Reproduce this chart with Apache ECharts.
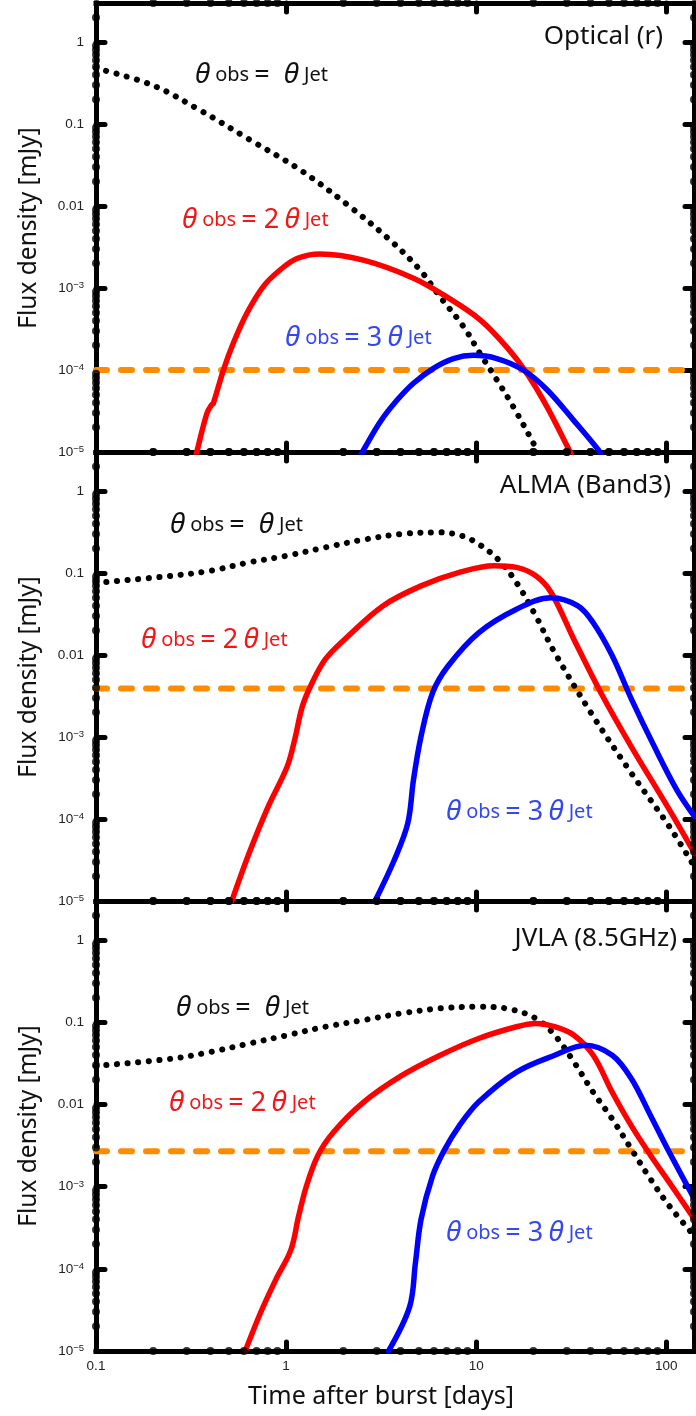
<!DOCTYPE html>
<html><head><meta charset="utf-8">
<script src="https://cdn.jsdelivr.net/npm/echarts@6/dist/echarts.min.js"></script>
<style>html,body{margin:0;padding:0;background:#fff}#c{width:696px;height:1416px}</style>
</head><body><div id="c"></div>
<script>
// ---- axis ranges & ticks ----
const X_MIN = 0.1, X_MAX = 140, Y_MIN = 1e-5, Y_MAX = 3;
const xTickLabels = ['0.1', '1', '10', '100'];
const yTickLabels = ['{b|10}{s|−5}', '{b|10}{s|−4}', '{b|10}{s|−3}', '0.01', '0.1', '1'];
const xMinorTicks = [0.2,0.3,0.4,0.5,0.6,0.7,0.8,0.9, 2,3,4,5,6,7,8,9, 20,30,40,50,60,70,80,90];
const yMinorTicks = [2e-5,3e-5,4e-5,5e-5,6e-5,7e-5,8e-5,9e-5, 2e-4,3e-4,4e-4,5e-4,6e-4,7e-4,8e-4,9e-4,
  0.002,0.003,0.004,0.005,0.006,0.007,0.008,0.009, 0.02,0.03,0.04,0.05,0.06,0.07,0.08,0.09,
  0.2,0.3,0.4,0.5,0.6,0.7,0.8,0.9, 2];

// ---- panel names & sensitivity limits ----
const panelNames = ['Optical (r)', 'ALMA (Band3)', 'JVLA (8.5GHz)'];
const limits = [1e-4, 0.0039, 0.0027];

// ---- Optical (r) ----
const optJet = [[0.1,0.48],[0.197,0.30],[0.352,0.148],[0.647,0.064],[1.19,0.0275],[2.17,0.0098],[3.52,0.00385],
  [5.07,0.00166],[6.46,0.00078],[8.57,0.00034],[10.5,0.000158],[12.85,7.6e-5],[15.7,3.55e-5],[20.5,1.15e-5],[21.4,0.9e-5]];
const optTwo = [[0.335,0.9e-5],[0.339,1.0e-5],[0.383,2.95e-5],[0.407,3.8e-5],[0.414,3.9e-5],[0.468,1.0e-4],[0.528,2.14e-4],
  [0.621,4.9e-4],[0.76,1.05e-3],[0.929,1.66e-3],[1.14,2.29e-3],[1.51,2.6e-3],[2.55,2.19e-3],[4.68,1.32e-3],
  [7.0,7.8e-4],[10.5,4.1e-4],[14.5,1.9e-4],[18.5,9.1e-5],[23.6,3.55e-5],[30.6,1.1e-5],[31.6,0.95e-5]];
const optThree = [[2.45,0.89e-5],[2.55,1.05e-5],[3.13,2.34e-5],[3.83,4.27e-5],[4.68,6.9e-5],[5.96,1.05e-4],[7.6,1.38e-4],
  [9.68,1.51e-4],[12.85,1.38e-4],[17.7,1.0e-4],[23.6,5.75e-5],[32.5,2.45e-5],[44.1,1.05e-5],[45.7,0.89e-5]];

// ---- ALMA (Band3) ----
const almaJet = [[0.1,0.076],[0.252,0.0927],[0.402,0.107],[0.638,0.135],[1.01,0.163],[1.61,0.206],[2.56,0.256],
  [4.07,0.30],[6.47,0.314],[8.6,0.28],[10.3,0.226],[13.0,0.148],[16.3,0.0767],[20.6,0.030],[25.9,0.0107],
  [41.3,0.00179],[65.6,3.62e-4],[104,8.05e-5],[141,2.6e-5]];
const almaTwo = [[0.518,1e-5],[0.638,3.8e-5],[0.804,1.41e-4],[1.014,4.37e-4],[1.11,9.3e-4],[1.22,2.4e-3],[1.37,4.57e-3],
  [1.61,8.9e-3],[2.03,0.0155],[3.23,0.0398],[5.13,0.0698],[8.15,0.102],[12.4,0.123],[16.3,0.1175],[20.6,0.0927],
  [24.8,0.058],[32.7,0.0155],[45.3,3.47e-3],[65.6,7.6e-4],[104,1.29e-4],[141,3.8e-5]];
const almaThree = [[2.94,1e-5],[3.71,3.16e-5],[4.37,8.9e-5],[4.68,3.0e-4],[5.13,1.02e-3],[5.9,3.47e-3],[7.1,7.3e-3],
  [10.3,0.0187],[16.3,0.0363],[24.8,0.050],[34.3,0.0398],[41.3,0.0248],[52,9.8e-3],[65.6,2.9e-3],[86.7,7.6e-4],
  [114,2.24e-4],[141,1.07e-4]];

// ---- JVLA (8.5GHz) ----
const jvlaJet = [[0.1,0.0295],[0.252,0.0362],[0.402,0.0437],[0.638,0.0552],[1.014,0.0698],[1.61,0.0885],[2.56,0.1067],
  [4.07,0.129],[6.47,0.148],[10.3,0.155],[14.9,0.1455],[20.6,0.1117],[25.9,0.0698],[32.7,0.033],[41.3,0.0141],
  [52,6.67e-3],[65.6,2.86e-3],[82.8,1.23e-3],[104,5.8e-4],[141,2.5e-4]];
const jvlaTwo = [[0.61,1e-5],[0.733,2.9e-5],[0.883,7.4e-5],[1.06,1.7e-4],[1.164,4.37e-4],[1.28,1.02e-3],[1.47,2.4e-3],
  [1.77,4.57e-3],[2.56,0.0107],[4.07,0.0226],[6.47,0.0398],[10.3,0.0637],[16.3,0.0885],[20.6,0.097],[25.9,0.0885],
  [32.7,0.0698],[41.3,0.0398],[52,0.0141],[65.6,5.5e-3],[82.8,2.4e-3],[104,1.12e-3],[141,4.0e-4]];
const jvlaThree = [[3.46,1e-5],[4.47,3.47e-5],[4.79,1.17e-4],[5.13,4.0e-4],[5.9,1.35e-3],[6.78,2.75e-3],[8.15,5.5e-3],
  [10.3,0.0107],[16.3,0.0248],[25.9,0.0398],[37.6,0.0527],[52,0.0398],[65.6,0.0206],[82.8,7.3e-3],[104,2.6e-3],[141,7.0e-4]];

const jetSets = [optJet, almaJet, jvlaJet];
const twoSets = [optTwo, almaTwo, jvlaTwo];
const threeSets = [optThree, almaThree, jvlaThree];

// ---- layout ----
const gridTops = [3, 452, 901];
const gridHeights = [449, 449, 450];
const FONT = '"Noto Sans", "Open Sans", sans-serif';

const chart = echarts.init(document.getElementById('c'), null, {renderer: 'canvas'});

function decadeIndex(v, offset, n) {
  const l = Math.log10(v);
  const e = Math.round(l);
  if (Math.abs(l - e) > 1e-6) return -1;
  const k = e + offset;
  return (k >= 0 && k < n) ? k : -1;
}

const grids = [], xAxes = [], yAxes = [], series = [];
const axisLine = {show: true, lineStyle: {color: '#000', width: 5, cap: 'square'}};
const axisTick = {show: true, inside: true, length: 9, lineStyle: {color: '#000', width: 5, cap: 'round'}};

for (let i = 0; i < 3; i++) {
  grids.push({left: 96, right: 2, top: gridTops[i], height: gridHeights[i], containLabel: false});
  const showX = (i === 2);
  xAxes.push({type: 'log', logBase: 10, gridIndex: i, position: 'bottom', min: X_MIN, max: X_MAX,
    axisLine, axisTick, splitLine: {show: false},
    axisLabel: {show: showX, margin: 8, fontSize: 13.5, fontFamily: 'Liberation Sans', color: '#222',
      showMaxLabel: false, showMinLabel: true,
      formatter: v => { const k = decadeIndex(v, 1, xTickLabels.length); return k < 0 ? '' : xTickLabels[k]; }}});
  xAxes.push({type: 'log', logBase: 10, gridIndex: i, position: 'top', min: X_MIN, max: X_MAX,
    axisLine, axisTick, splitLine: {show: false}, axisLabel: {show: false}});
  yAxes.push({type: 'log', logBase: 10, gridIndex: i, position: 'left', min: Y_MIN, max: Y_MAX,
    axisLine, axisTick, splitLine: {show: false},
    axisLabel: {show: true, margin: 12, fontSize: 13.5, fontFamily: 'Liberation Sans', color: '#222',
      showMaxLabel: false,
      formatter: v => { const k = decadeIndex(v, 5, yTickLabels.length); return k < 0 ? '' : yTickLabels[k]; },
      rich: {
        b: {fontSize: 13.5, fontFamily: 'Liberation Sans', color: '#222', lineHeight: 15},
        s: {fontSize: 9.5, fontFamily: 'Liberation Sans', color: '#222', verticalAlign: 'top', lineHeight: 9}
      }}});
  yAxes.push({type: 'log', logBase: 10, gridIndex: i, position: 'right', min: Y_MIN, max: Y_MAX,
    axisLine, axisTick, splitLine: {show: false}, axisLabel: {show: false}});

  const xi = 2 * i, yi = 2 * i;
  const common = {type: 'line', xAxisIndex: xi, yAxisIndex: yi, showSymbol: false, symbol: 'none',
    smooth: 0.35, emphasis: {disabled: true}, silent: true, animation: false};
  series.push(Object.assign({}, common, {name: 'limit' + i, smooth: false,
    data: [[X_MIN, limits[i]], [X_MAX, limits[i]]], z: 2,
    lineStyle: {color: '#ff8c00', width: 6, type: [11, 14], cap: 'round'}}));
  series.push(Object.assign({}, common, {name: 'jet' + i, data: jetSets[i], z: 3,
    lineStyle: {color: '#000', width: 6, type: [0.1, 10.5], cap: 'round'}}));
  series.push(Object.assign({}, common, {name: 'two' + i, data: twoSets[i], z: 4,
    lineStyle: {color: '#ff0000', width: 5.5, cap: 'round', join: 'round'}}));
  series.push(Object.assign({}, common, {name: 'three' + i, data: threeSets[i], z: 4,
    lineStyle: {color: '#0000ff', width: 5.5, cap: 'round', join: 'round'}}));
  // minor tick dots on all four sides
  const tickData = [];
  xMinorTicks.forEach(v => { tickData.push([v, Y_MIN]); tickData.push([v, Y_MAX]); });
  yMinorTicks.forEach(v => { tickData.push([X_MIN, v]); tickData.push([X_MAX, v]); });
  series.push({type: 'scatter', xAxisIndex: xi, yAxisIndex: yi, data: tickData, symbol: 'circle', symbolSize: 8,
    itemStyle: {color: '#000'}, clip: false, silent: true, z: 10, emphasis: {disabled: true}, animation: false});
}

// ---- text labels ----
const richTheta = (color) => ({
  t: {fontSize: 28, fontStyle: 'italic', fontFamily: FONT, fill: color},
  s: {fontSize: 20, fontFamily: FONT, fill: color},
  e: {fontSize: 27, fontFamily: FONT, fill: color}
});
const lblJet = '{t|θ}{s| obs }{e|=  }{t|θ}{s| Jet}';
const lblTwo = '{t|θ}{s| obs }{e|= 2}{s| }{t|θ}{s| Jet}';
const lblThree = '{t|θ}{s| obs }{e|= 3}{s| }{t|θ}{s| Jet}';

const labelPos = [
  {name: [663, 37], jet: [195, 75], two: [182, 220], three: [285, 338]},
  {name: [671, 486], jet: [170, 525], two: [141, 640], three: [446, 812]},
  {name: [677, 939], jet: [176, 1008], two: [169, 1103], three: [446, 1233]}
];
const yTitleCenters = [228, 677, 1126];

const graphics = [];
for (let i = 0; i < 3; i++) {
  const p = labelPos[i];
  graphics.push({type: 'text', x: p.name[0], y: p.name[1], silent: true, z: 20,
    style: {text: panelNames[i], fontSize: 26, fontFamily: FONT, fill: '#111', align: 'right', verticalAlign: 'middle'}});
  graphics.push({type: 'text', x: p.jet[0], y: p.jet[1], silent: true, z: 20,
    style: {text: lblJet, rich: richTheta('#111'), fill: '#111', align: 'left', verticalAlign: 'middle'}});
  graphics.push({type: 'text', x: p.two[0], y: p.two[1], silent: true, z: 20,
    style: {text: lblTwo, rich: richTheta('#f01818'), fill: '#f01818', align: 'left', verticalAlign: 'middle'}});
  graphics.push({type: 'text', x: p.three[0], y: p.three[1], silent: true, z: 20,
    style: {text: lblThree, rich: richTheta('#3448ee'), fill: '#3448ee', align: 'left', verticalAlign: 'middle'}});
  graphics.push({type: 'text', x: 29, y: yTitleCenters[i], rotation: Math.PI / 2, silent: true, z: 20,
    style: {text: 'Flux density [mJy]', fontSize: 24.5, fontFamily: FONT, fill: '#111', align: 'center', verticalAlign: 'middle'}});
}
graphics.push({type: 'text', x: 381, y: 1397, silent: true, z: 20,
  style: {text: 'Time after burst [days]', fontSize: 25, fontFamily: FONT, fill: '#111', align: 'center', verticalAlign: 'middle'}});

chart.setOption({
  animation: false,
  backgroundColor: '#fff',
  grid: grids,
  xAxis: xAxes,
  yAxis: yAxes,
  series: series,
  graphic: graphics
});
</script></body></html>
